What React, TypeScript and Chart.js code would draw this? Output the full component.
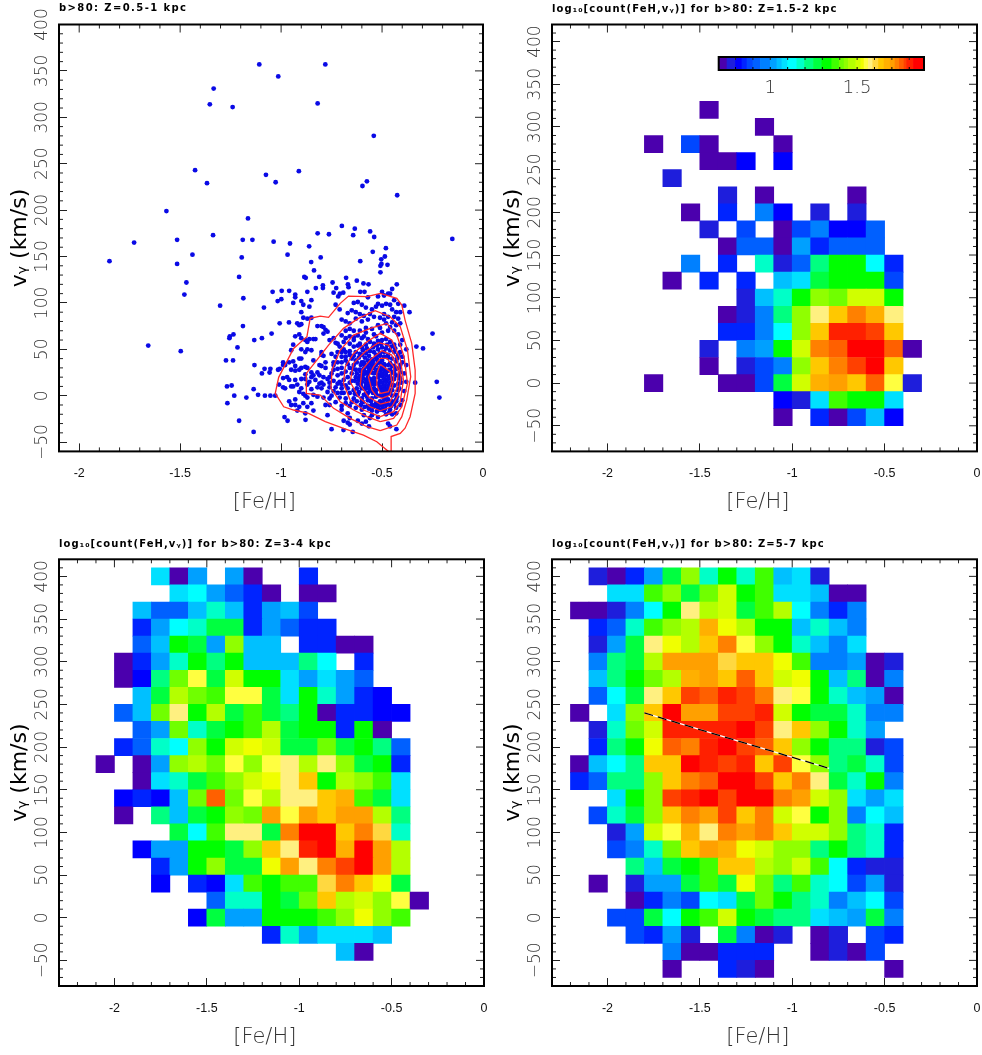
import { useEffect, useRef } from "react";
import { Chart, registerables } from "chart.js";

Chart.register(...registerables);

const _ = null;

// Colour bins of the colour bar: fill of each bin and its log10(count) lower edges.
const LEVEL_COLORS = [
  "#4b00ad", "#1e1edc", "#0000ff", "#0024ff", "#0047ff", "#0060ff", "#0080ff", "#00a0ff",
  "#00c0ff", "#00e0ff", "#00ffff", "#00ffc8", "#00ff80", "#00ff40", "#00ff00", "#40ff00",
  "#70ff00", "#90ff00", "#b4ff00", "#d0ff00", "#f0ff00", "#ffff40", "#fff080", "#ffd840",
  "#ffc800", "#ffb000", "#ffa000", "#ff8000", "#ff6000", "#ff4000", "#ff2000", "#ff0000",
];
const LEVEL_EDGES = [
  0.703, 0.751, 0.799, 0.837, 0.866, 0.9, 0.943, 1.0, 1.038, 1.067, 1.1, 1.153, 1.197, 1.249, 1.297,
  1.354, 1.397, 1.425, 1.45, 1.492, 1.521, 1.54, 1.565, 1.59, 1.623, 1.655, 1.69, 1.718, 1.743, 1.77,
  1.785, 1.824, 1.885,
];

const FEH_BIN_LEFT = [
  -2.2, -2.1, -2.0, -1.9, -1.8, -1.7, -1.6, -1.5, -1.4, -1.3, -1.2, -1.1, -1.0, -0.9, -0.8, -0.7, -0.6,
  -0.5, -0.4,
];
const VY_BIN_LOW = [390, 370, 350, 330, 310, 290, 270, 250, 230, 210, 190, 170, 150, 130, 110, 90, 70, 50, 30, 10, -10, -30, -50, -70];

// Rows run from the top velocity bin downward; values are colour-bin numbers.
const Z15_2_ROWS = [
  [], [], [], [],
  [_, _, _, _, _, _, _, 0],
  [_, _, _, _, _, _, _, _, _, _, 0],
  [_, _, _, _, 0, _, 4, 0, _, _, _, 0],
  [_, _, _, _, _, _, _, 0, 0, 2, _, 2],
  [_, _, _, _, _, 1],
  [_, _, _, _, _, _, _, _, 1, _, 0, _, _, _, _, 0],
  [_, _, _, _, _, _, 0, _, 3, _, 6, 2, _, 1, _, 1],
  [_, _, _, _, _, _, _, 1, _, 4, _, 0, 4, 6, 2, 2, 5],
  [_, _, _, _, _, _, _, _, 0, 5, 5, 0, 7, 3, 5, 5, 5],
  [_, _, _, _, _, _, 6, _, 3, _, 11, 1, 5, 12, 14, 14, 10, 3],
  [_, _, _, _, _, 0, _, 3, _, 3, _, 8, 9, 13, 14, 14, 14, 4],
  [_, _, _, _, _, _, _, _, _, 1, 8, 11, 14, 17, 16, 19, 19, 14],
  [_, _, _, _, _, _, _, _, 0, 1, 6, 12, 17, 22, 24, 27, 25, 22],
  [_, _, _, _, _, _, _, _, 3, 3, 6, 10, 17, 24, 30, 30, 29, 24],
  [_, _, _, _, _, _, _, 1, _, 6, 7, 14, 19, 27, 28, 31, 31, 28, 0],
  [_, _, _, _, _, _, _, 0, _, 1, 4, 6, 17, 24, 27, 29, 31, 24],
  [_, _, _, _, 0, _, _, _, 0, 0, 4, 13, 19, 25, 26, 24, 28, 21, 1],
  [_, _, _, _, _, _, _, _, _, _, _, 2, 1, 9, 15, 14, 14, 9],
  [_, _, _, _, _, _, _, _, _, _, _, 0, _, 3, 0, 4, 8, 2],
  [],
];

const Z3_4_ROWS = [
  [_, _, _, _, 9, 0, 7, _, 7, 0, _, _, 3],
  [_, _, _, _, _, 9, 10, 7, 5, 3, 0, _, 0, 0],
  [_, _, _, 8, 5, 5, 8, 11, 8, 3, 7, 8, 4],
  [_, _, _, 3, 7, 10, 11, 13, 13, 3, 7, 5, 3, 3],
  [_, _, _, 5, 8, 14, 13, 7, 17, 8, 8, _, 3, 3, 0, 0],
  [_, _, 0, 3, 7, 11, 14, 12, 14, 8, 8, 8, 12, 10, _, 3],
  [_, _, 0, 2, 12, 16, 21, 13, 19, 14, 14, 9, 7, 9, 7, 5],
  [_, _, _, 8, 13, 18, 16, 15, 21, 21, 13, 9, 14, 11, 7, 3, 2],
  [_, _, 5, 8, 16, 22, 14, 18, 13, 15, 13, 12, 14, 0, 3, 3, 2, 2],
  [_, _, _, 5, 7, 16, 11, 13, 14, 15, 18, 13, 14, 14, 3, 14, 0],
  [_, _, 3, 5, 11, 10, 17, 14, 19, 20, 19, 13, 13, 16, 13, 14, 12, 5],
  [_, 0, _, 0, 7, 17, 18, 16, 21, 17, 21, 22, 18, 22, 17, 13, 14, 3],
  [_, _, _, 0, 9, 11, 13, 15, 17, 19, 20, 22, 24, 14, 18, 17, 15, 9],
  [_, _, 2, 3, 2, 8, 16, 28, 16, 21, 18, 22, 22, 24, 25, 15, 13, 9],
  [_, _, 0, _, 12, 8, 13, 14, 17, 16, 26, 21, 26, 24, 26, 26, 18, 12],
  [_, _, _, _, _, 13, 10, 15, 22, 22, 13, 27, 31, 31, 24, 27, 23, 11],
  [_, _, _, 2, 7, 7, 14, 14, 13, 17, 24, 22, 30, 31, 25, 31, 26, 18],
  [_, _, _, _, 3, 7, 14, 17, 13, 13, 20, 26, 22, 27, 29, 31, 26, 18],
  [_, _, _, _, 2, _, 3, 2, 9, 15, 14, 15, 15, 23, 27, 24, 20, 13],
  [_, _, _, _, _, _, _, 5, 11, 11, 14, 13, 16, 24, 18, 19, 17, 21, 0],
  [_, _, _, _, _, _, 2, 13, 7, 7, 14, 14, 14, 15, 17, 20, 17, 15],
  [_, _, _, _, _, _, _, _, _, _, 3, 11, 7, 9, 9, 9, 8],
  [_, _, _, _, _, _, _, _, _, _, _, _, _, _, 8, 0],
  [],
];

const Z5_7_ROWS = [
  [_, 1, 0, 3, 7, 13, 17, 11, 14, 11, 15, 8, 9, 1],
  [_, _, 9, 9, 15, 17, 13, 16, 19, 14, 15, 9, 9, 8, 0, 0],
  [0, 0, 1, 6, 10, 14, 22, 18, 19, 13, 15, 18, 10, 6, 3, 6],
  [_, 3, 5, 11, 15, 17, 18, 25, 20, 18, 14, 14, 8, 11, 8, 6],
  [_, 1, 7, 13, 22, 20, 18, 24, 27, 21, 17, 14, 11, 8, 6, 9],
  [_, 6, 12, 13, 18, 26, 26, 26, 23, 24, 24, 20, 15, 6, 6, 7, 0, 1],
  [_, 8, 12, 14, 16, 18, 25, 26, 24, 28, 24, 19, 20, 14, 8, 12, 0, 6],
  [_, 5, 10, 13, 22, 24, 29, 28, 30, 29, 27, 22, 21, 14, 11, 8, 7, 0],
  [0, _, 9, 17, 24, 31, 26, 26, 29, 29, 30, 19, 14, 13, 13, 11, 6, 6],
  [_, 1, 11, 16, 19, 30, 30, 30, 30, 31, 29, 22, 24, 17, 14, 11, 7],
  [_, 3, 12, 14, 20, 28, 27, 30, 31, 29, 28, 24, 17, 14, 12, 12, 1, 4],
  [0, 8, 10, 12, 24, 24, 31, 30, 29, 30, 24, 29, 21, 17, 12, 13, 11, 4],
  [3, 5, 12, 12, 17, 24, 27, 28, 31, 31, 29, 24, 27, 22, 13, 11, 14, 6],
  [_, _, 9, 14, 17, 29, 30, 31, 29, 31, 31, 27, 26, 19, 17, 9, 7, 9],
  [_, 4, 11, 13, 17, 24, 27, 26, 29, 24, 27, 19, 21, 14, 17, 6, 10, 8],
  [_, _, 1, 7, 19, 21, 25, 22, 27, 26, 27, 24, 19, 19, 17, 12, 11, 3],
  [_, _, 4, 6, 11, 16, 24, 26, 25, 20, 19, 17, 17, 12, 14, 12, 11, 3],
  [_, _, _, 12, 8, 13, 14, 15, 24, 24, 18, 17, 19, 15, 10, 3, 1, 1],
  [_, 0, _, 1, 7, 7, 13, 15, 13, 20, 16, 12, 15, 11, 10, 4, 7, 1],
  [_, _, _, 0, 3, 6, 4, 10, 9, 13, 16, 14, 12, 11, 6, 8, 10, 4],
  [_, _, 4, 4, 13, 10, 14, 15, 19, 14, 13, 12, 12, 9, 8, 7, 13, 6],
  [_, _, _, 4, 3, 7, 1, _, 13, 6, 0, 1, _, 0, 1, _, 4, 3],
  [_, _, _, _, _, 6, 0, 0, 3, 3, 3, _, _, 0, 1, 0, 4],
  [_, _, _, _, _, 0, _, _, 3, 1, 0, _, _, _, _, _, _, 0],
];

const Z5_7_TREND_FEH = [-1.8, -0.8];
const Z5_7_TREND_VY = [240, 175];

// Panel 1: stars as [FeH, vY]
const HALO_STARS = [
  [-1.108, 357], [-0.781, 357], [-1.014, 344], [-1.334, 331], [-1.353, 314], [-1.24, 311], [-0.819, 315], [-0.541, 280],
  [-1.426, 243], [-1.075, 238], [-0.912, 242], [-1.367, 229], [-1.027, 230], [-0.575, 231], [-0.597, 226], [-0.425, 216],
  [-1.568, 199], [-1.164, 191], [-0.699, 183], [-0.635, 180], [-0.819, 175], [-0.763, 174], [-0.643, 173], [-0.559, 177],
  [-0.539, 171], [-1.337, 173], [-1.728, 165], [-1.515, 168], [-1.19, 168], [-1.142, 168], [-1.037, 166], [-0.956, 164],
  [-0.861, 161], [-0.152, 169], [-0.481, 159], [-0.546, 155], [-1.439, 152], [-0.968, 152], [-0.486, 150], [-1.195, 149],
  [-0.804, 149], [-0.504, 147], [-1.85, 145], [-0.608, 145], [-0.851, 144], [-1.515, 142], [-0.503, 142], [-0.473, 141],
  [-0.508, 140], [-0.837, 135], [-0.508, 133], [-1.208, 128], [-0.885, 128], [-0.878, 127], [-0.811, 128], [-1.469, 122],
  [-1.479, 109], [-1.302, 97], [-1.187, 105], [-1.042, 112], [-0.997, 113], [-1.017, 102], [-0.999, 104], [-1.085, 95],
  [-1.189, 75], [-1.007, 78], [-0.961, 79], [-1.047, 67], [-1.236, 66], [-1.254, 64], [-1.256, 62], [-1.095, 62],
  [-1.133, 60], [-1.216, 52], [-1.658, 54], [-1.497, 48], [-1.273, 38], [-1.238, 38], [-1.132, 33], [-1.082, 29],
  [-1.053, 29], [-1.057, 25], [-1.095, 24], [-1.007, 29], [-1.015, 28], [-0.99, 33], [-1.268, 10], [-1.245, 11],
  [-1.136, 7], [-1.232, 0], [-1.172, -2], [-1.114, 1], [-1.08, 0], [-1.053, 0], [-1.029, 0], [-1.266, -8],
  [-1.208, -27], [-1.136, -39], [-0.429, -36], [-0.25, 67], [-0.33, 53], [-0.297, 51], [-0.336, 14], [-0.229, 15],
  [-0.216, -2], [-0.364, 90], [-0.427, 120], [-0.983, -23], [-0.968, -27], [-0.879, -26], [-0.75, -36], [-0.691, -37],
  [-0.645, -39], [-0.565, -33],
];
const MIDDLE_STARS = [
  [-0.745, 122], [-0.793, 119], [-0.793, 116], [-0.727, 116], [-0.74, 111], [-0.678, 127], [-0.625, 124], [-0.669, 120],
  [-0.666, 117], [-0.592, 121], [-0.567, 120], [-0.608, 112], [-0.587, 112], [-0.709, 110], [-0.692, 111], [-0.717, 107],
  [-0.828, 116], [-0.96, 113], [-0.93, 109], [-0.93, 106], [-0.94, 100], [-0.9, 102], [-0.89, 98], [-0.85, 103],
  [-0.87, 112], [-0.86, 96], [-0.9, 90], [-0.89, 84], [-0.87, 83], [-0.85, 84], [-0.92, 78], [-0.91, 76], [-0.9, 77],
  [-0.82, 75], [-0.8, 75], [-0.79, 74], [-0.78, 71], [-0.77, 69], [-0.79, 67], [-0.91, 66], [-0.93, 64], [-0.9, 62],
  [-0.88, 60], [-0.87, 58], [-0.86, 61], [-0.84, 61], [-0.83, 61], [-0.76, 60], [-0.74, 62], [-0.73, 57], [-0.94, 55],
  [-0.9, 50], [-0.87, 50], [-0.85, 49], [-0.95, 49], [-0.88, 47], [-0.94, 37], [-0.96, 36], [-0.91, 40], [-0.9, 40],
  [-0.84, 38], [-0.8, 47], [-0.8, 44], [-0.79, 43], [-0.78, 36], [-0.74, 36], [-0.72, 36], [-0.7, 42], [-0.99, 36],
  [-0.98, 33], [-0.93, 32], [-0.9, 30], [-0.88, 31], [-0.87, 30], [-0.85, 25], [-0.81, 33], [-0.8, 32], [-0.78, 30],
  [-0.95, 28], [-0.93, 27], [-0.91, 28], [-0.88, 23], [-0.85, 20], [-0.84, 22], [-0.82, 25], [-0.81, 22], [-0.79, 20],
  [-0.77, 18], [-0.99, 19], [-0.97, 20], [-0.96, 17], [-0.93, 17], [-0.9, 18], [-0.88, 18], [-0.86, 15], [-0.83, 17],
  [-0.81, 13], [-0.8, 14], [-0.79, 12], [-0.95, 10], [-0.94, 10], [-0.92, 12], [-0.9, 8], [-0.87, 12], [-0.85, 7],
  [-0.82, 9], [-0.8, 8], [-1.01, 12], [-0.99, 9], [-0.98, 8], [-0.91, 4], [-0.89, 2], [-0.88, 0], [-0.87, -2], [-0.84, 1],
  [-0.82, -1], [-0.79, -2], [-0.76, -3], [-0.75, 0], [-0.71, -2], [-0.69, 3], [-0.93, -4], [-0.96, -6], [-0.95, -10],
  [-0.93, -10], [-0.91, -12], [-0.89, -8], [-0.87, -12], [-0.85, -8], [-0.78, -10], [-0.76, -10], [-0.73, -7], [-0.7, -11],
  [-0.68, -8], [-0.92, -16], [-0.88, -19], [-0.84, -16], [-0.77, -21], [-0.7, -15], [-0.67, -19], [-0.66, -24], [-0.69, -27],
  [-0.67, -29], [-0.66, -31], [-0.62, -27], [-0.6, -30], [-0.58, -28], [-0.56, -24], [-0.59, -21], [-0.55, -21], [-0.52, -23],
  [-0.48, -20], [-0.45, -20], [-0.43, -19], [-0.47, -30], [-0.46, -33], [-0.43, -13], [-0.41, -10], [-0.4, -5], [-0.73, 98],
  [-0.71, 93], [-0.67, 89], [-0.65, 92], [-0.63, 90], [-0.61, 88], [-0.59, 86], [-0.55, 93], [-0.53, 96], [-0.52, 99],
  [-0.5, 97], [-0.48, 99], [-0.46, 98], [-0.45, 93], [-0.42, 99], [-0.39, 97], [-0.49, 108], [-0.47, 110], [-0.45, 115],
  [-0.46, 110], [-0.52, 107], [-0.57, 106], [-0.64, 100], [-0.62, 101], [-0.6, 98], [-0.58, 95], [-0.7, 82], [-0.68, 80],
  [-0.66, 78], [-0.63, 83], [-0.6, 80], [-0.57, 82], [-0.54, 85], [-0.51, 84], [-0.49, 88], [-0.47, 85], [-0.44, 85],
  [-0.42, 83], [-0.41, 78], [-0.45, 79], [-0.48, 78], [-0.52, 76], [-0.55, 72], [-0.58, 73], [-0.61, 70], [-0.64, 70],
  [-0.66, 72], [-0.68, 70], [-0.7, 65], [-0.66, 64], [-0.64, 63], [-0.62, 65], [-0.59, 64], [-0.57, 61], [-0.53, 64],
  [-0.5, 68], [-0.47, 70], [-0.44, 70], [-0.42, 66], [-0.4, 60], [-0.38, 50], [-0.41, 55], [-0.69, 58], [-0.66, 56],
  [-0.64, 53], [-0.61, 56], [-0.71, 53], [-0.69, 50], [-0.66, 48], [-0.63, 47], [-0.61, 45], [-0.72, 47], [-0.75, 45],
  [-0.73, 42], [-0.68, 42], [-0.65, 40], [-0.63, 38], [-0.72, 29], [-0.7, 30], [-0.67, 34], [-0.75, 24], [-0.72, 22],
  [-0.7, 24], [-0.68, 26], [-0.66, 30], [-0.64, 33], [-0.74, 16], [-0.71, 15], [-0.69, 17], [-0.67, 20], [-0.65, 24],
  [-0.73, 9], [-0.7, 8], [-0.68, 11], [-0.66, 14], [-0.64, 6], [-0.66, 3], [-0.62, 1], [-0.64, -3], [-0.6, -6], [-0.66, -11],
  [-0.63, -13], [-0.6, -15], [-0.57, -11], [-0.55, -16], [-0.52, -15], [-0.49, -16], [-0.46, -15], [-0.43, -6], [-0.39, 5],
  [-0.38, 15], [-0.39, 24], [-0.38, 33], [-0.4, 42], [-0.4, 36], [-0.41, 47],
];
const CORE_STARS = [
  [-0.62, 54], [-0.6, 52], [-0.58, 55], [-0.56, 58], [-0.54, 56], [-0.52, 59], [-0.5, 60], [-0.48, 61], [-0.46, 58], [-0.44, 55],
  [-0.6, 44], [-0.58, 46], [-0.56, 48], [-0.54, 47], [-0.52, 50], [-0.5, 52], [-0.48, 51], [-0.46, 49], [-0.44, 47], [-0.42, 44],
  [-0.59, 36], [-0.57, 38], [-0.55, 39], [-0.53, 41], [-0.51, 43], [-0.49, 42], [-0.47, 41], [-0.45, 40], [-0.43, 37], [-0.41, 33],
  [-0.61, 28], [-0.59, 29], [-0.57, 31], [-0.55, 32], [-0.53, 33], [-0.51, 35], [-0.49, 34], [-0.47, 33], [-0.45, 32], [-0.43, 29],
  [-0.41, 25], [-0.63, 20], [-0.61, 21], [-0.59, 23], [-0.57, 24], [-0.55, 25], [-0.53, 26], [-0.51, 27], [-0.49, 28], [-0.47, 27],
  [-0.45, 25], [-0.43, 22], [-0.41, 18], [-0.62, 13], [-0.6, 15], [-0.58, 17], [-0.56, 18], [-0.54, 19], [-0.52, 20], [-0.5, 21],
  [-0.48, 22], [-0.46, 21], [-0.44, 18], [-0.42, 13], [-0.6, 8], [-0.58, 10], [-0.56, 11], [-0.54, 12], [-0.52, 13], [-0.5, 14],
  [-0.48, 15], [-0.46, 14], [-0.44, 11], [-0.42, 6], [-0.59, 1], [-0.57, 3], [-0.55, 5], [-0.53, 6], [-0.51, 7], [-0.49, 8],
  [-0.47, 8], [-0.45, 6], [-0.43, 1], [-0.57, -5], [-0.55, -3], [-0.53, -1], [-0.51, 0], [-0.49, 2], [-0.47, 2], [-0.45, 0],
  [-0.43, -4], [-0.55, -10], [-0.53, -8], [-0.51, -6], [-0.49, -4], [-0.47, -4], [-0.45, -6], [-0.52, -12], [-0.5, -11],
  [-0.48, -10], [-0.46, -10], [-0.51, 30], [-0.5, 24], [-0.49, 18], [-0.49, 11], [-0.5, 5], [-0.48, 5], [-0.47, 11], [-0.47, 18],
  [-0.48, 25], [-0.49, 31], [-0.46, 28], [-0.46, 35], [-0.5, 38], [-0.52, 36], [-0.52, 28], [-0.52, 23], [-0.51, 16], [-0.51, 10],
  [-0.5, 0], [-0.48, 0], [-0.46, 4], [-0.45, 11], [-0.45, 18], [-0.44, 25], [-0.44, 32], [-0.47, 44], [-0.49, 47], [-0.51, 46],
  [-0.53, 44], [-0.55, 35], [-0.54, 30], [-0.54, 24], [-0.54, 16], [-0.54, 8], [-0.53, 2], [-0.56, 28], [-0.57, 20], [-0.58, 13],
  [-0.56, 6], [-0.58, 2], [-0.6, -3], [-0.6, 36], [-0.63, 28], [-0.65, 16], [-0.67, 8],
  [-0.615, 41], [-0.585, 41], [-0.565, 43], [-0.545, 52], [-0.525, 54], [-0.505, 56], [-0.475, 55], [-0.455, 53], [-0.435, 51],
  [-0.595, 49], [-0.575, 51], [-0.625, 36], [-0.605, 33], [-0.585, 33], [-0.565, 35], [-0.545, 37], [-0.525, 39], [-0.425, 40],
  [-0.645, 29], [-0.625, 24], [-0.605, 26], [-0.585, 26], [-0.565, 27], [-0.415, 30], [-0.635, 16], [-0.615, 17], [-0.595, 19],
  [-0.575, 14], [-0.555, 15], [-0.535, 14], [-0.415, 21], [-0.405, 14], [-0.625, 8], [-0.605, 11], [-0.585, 7], [-0.565, 8],
  [-0.545, 3], [-0.415, 8], [-0.425, -1], [-0.635, 2], [-0.615, 4], [-0.595, -7], [-0.575, -1], [-0.555, -6], [-0.535, -11],
  [-0.515, -10], [-0.495, -8], [-0.475, -8], [-0.455, -11], [-0.44, -9], [-0.625, -6], [-0.605, -10], [-0.585, -12], [-0.565, -14],
  [-0.545, -12], [-0.525, -17], [-0.505, -15], [-0.485, -14], [-0.465, -18], [-0.65, -7], [-0.68, -3], [-0.7, 3], [-0.72, 3],
  [-0.7, 12], [-0.72, 13], [-0.74, 5], [-0.76, 9], [-0.77, 4], [-0.76, 14], [-0.76, 20], [-0.74, 28], [-0.74, 33], [-0.7, 36],
  [-0.68, 38], [-0.66, 44], [-0.64, 43], [-0.68, 47], [-0.7, 47], [-0.72, 56], [-0.68, 62], [-0.64, 60], [-0.6, 62], [-0.58, 68],
  [-0.54, 66], [-0.51, 73], [-0.46, 74], [-0.49, 82], [-0.56, 88], [-0.43, 76], [-0.43, 90], [-0.41, 90], [-0.44, 103], [-0.5, 112],
];

const CONTOUR_1 = [[-0.455, -61], [-0.455, -44], [-0.41, -40.6], [-0.386, -35], [-0.361, -22.6], [-0.336, 2.5], [-0.336, 27.7], [-0.353, 56.4], [-0.386, 81.5], [-0.402, 97.7], [-0.427, 104.9], [-0.509, 110.3], [-0.575, 106.7], [-0.666, 107.4], [-0.707, 99.5], [-0.765, 84.4], [-0.806, 85.8], [-0.856, 83.3], [-0.872, 63.6], [-0.938, 51], [-1.012, 19.8], [-1.029, 2.5], [-0.987, -11.9], [-0.938, -15.4], [-0.864, -19], [-0.781, -28], [-0.691, -35.2], [-0.592, -42.4], [-0.526, -49.6], [-0.463, -61]];
const CONTOUR_2 = [[-0.509, -37.7], [-0.427, -31.6], [-0.402, -22.6], [-0.378, -4.7], [-0.358, 20.5], [-0.374, 49.2], [-0.41, 74.4], [-0.46, 85.1], [-0.534, 91.6], [-0.617, 83.3], [-0.691, 72.6], [-0.765, 54.6], [-0.823, 38.4], [-0.875, 24.1], [-0.875, 2.5], [-0.806, 0.7], [-0.74, -13.6], [-0.658, -24.4], [-0.575, -33.4], [-0.509, -37.7]];
const CONTOUR_3 = [[-0.509, -28], [-0.443, -24.4], [-0.402, -11.9], [-0.374, 13.3], [-0.391, 42], [-0.427, 65.4], [-0.476, 77.9], [-0.559, 72.6], [-0.641, 65.4], [-0.707, 49.2], [-0.748, 27.7], [-0.753, 7.9], [-0.707, -6.5], [-0.641, -15.4], [-0.575, -22.6], [-0.509, -28]];
const CONTOUR_4 = [[-0.509, -22.6], [-0.443, -17.2], [-0.41, -6.5], [-0.394, 16.9], [-0.41, 40.2], [-0.452, 60], [-0.509, 67.2], [-0.575, 58.2], [-0.641, 45.6], [-0.682, 31.3], [-0.691, 13.3], [-0.658, -4.7], [-0.592, -15.4], [-0.509, -22.6]];
const CONTOUR_5 = [[-0.509, -16.2], [-0.452, -11.9], [-0.419, 0.7], [-0.406, 20.5], [-0.427, 40.2], [-0.468, 54.6], [-0.518, 57.1], [-0.584, 47.4], [-0.641, 34.9], [-0.658, 15], [-0.617, -1.1], [-0.559, -11.9], [-0.509, -16.2]];
const CONTOUR_6 = [[-0.509, -9], [-0.46, -6.5], [-0.427, 7.9], [-0.419, 25.9], [-0.452, 43.8], [-0.501, 48.5], [-0.551, 40.2], [-0.6, 27.7], [-0.608, 11.5], [-0.567, -1.1], [-0.509, -9]];
const CONTOUR_7 = [[-0.501, -2.9], [-0.46, 0.7], [-0.443, 15], [-0.443, 31.3], [-0.476, 40.2], [-0.509, 40.2], [-0.542, 31.3], [-0.567, 20], [-0.55, 6], [-0.53, 0], [-0.501, -2.9]];
const CONTOUR_8 = [[-0.509, 34], [-0.46, 25.9], [-0.452, 15], [-0.468, 4.3], [-0.509, 2.5], [-0.526, 11.5], [-0.526, 24], [-0.509, 34]];

const TITLES = [
  "b>80: Z=0.5-1 kpc",
  "log₁₀[count(FeH,vᵧ)] for b>80: Z=1.5-2 kpc",
  "log₁₀[count(FeH,vᵧ)] for b>80: Z=3-4 kpc",
  "log₁₀[count(FeH,vᵧ)] for b>80: Z=5-7 kpc",
];
const X_LABEL = "[Fe/H]\u00A0\u00A0";
const Y_LABEL = "vᵧ (km/s)";
const X_MINOR = [-2.2, -2.1, -1.9, -1.8, -1.7, -1.6, -1.4, -1.3, -1.2, -1.1, -0.9, -0.8, -0.7, -0.6, -0.4, -0.3, -0.2, -0.1];
const X_MAJOR = [-2, -1.5, -1, -0.5, 0];
const Y_MAJOR = [-50, 0, 50, 100, 150, 200, 250, 300, 350, 400];
const Y_MINOR = [-70, -60, -40, -30, -20, -10, 10, 20, 30, 40, 60, 70, 80, 90, 110, 120, 130, 140, 160, 170, 180, 190, 210, 220, 230, 240, 260, 270, 280, 290, 310, 320, 330, 340, 360, 370, 380, 390, 410];
const BAR_TICKS = [0.8, 0.9, 1, 1.1, 1.2, 1.3, 1.4, 1.5, 1.6, 1.7, 1.8];
const BAR_LABELS = [1, 1.5];

const asTicks = (list) => (s) => { s.ticks = list.map((value) => ({ value })); };
const noPadding = (s) => { s.paddingLeft = 0; s.paddingRight = 0; s.paddingTop = 0; s.paddingBottom = 0; };

function frameTicks(xMajor, xMinor, yMajor, yMinor, majorLen, minorLen, letterSpacing) {
  return {
    id: "frameTicks",
    beforeDraw(chart) {
      const t = chart.titleBlock;
      if (t && !t.__spaced) {
        const draw = t.draw;
        t.draw = function () {
          chart.ctx.save();
          chart.ctx.letterSpacing = letterSpacing;
          draw.call(t);
          chart.ctx.restore();
        };
        t.__spaced = true;
      }
    },
    afterDatasetsDraw(chart) {
      const { ctx, chartArea: a, scales } = chart;
      ctx.save();
      ctx.strokeStyle = "#222";
      ctx.lineWidth = 1;
      const vTick = (v, len, both) => {
        const x = scales.x.getPixelForValue(v);
        if (x < a.left + 1 || x > a.right - 1) return;
        ctx.beginPath();
        ctx.moveTo(x, a.top);
        ctx.lineTo(x, a.top + len);
        if (both) {
          ctx.moveTo(x, a.bottom);
          ctx.lineTo(x, a.bottom - len);
        }
        ctx.stroke();
      };
      const hTick = (v, len, both) => {
        const y = scales.y.getPixelForValue(v);
        if (y < a.top + 1 || y > a.bottom - 1) return;
        ctx.beginPath();
        ctx.moveTo(a.right, y);
        ctx.lineTo(a.right - len, y);
        if (both) {
          ctx.moveTo(a.left, y);
          ctx.lineTo(a.left + len, y);
        }
        ctx.stroke();
      };
      xMajor.forEach((v) => vTick(v, majorLen, false));
      xMinor.forEach((v) => vTick(v, minorLen, true));
      yMajor.forEach((v) => hTick(v, majorLen, false));
      yMinor.forEach((v) => hTick(v, minorLen, true));
      ctx.strokeStyle = "#000";
      ctx.lineWidth = 2;
      ctx.strokeRect(a.left, a.top, a.right - a.left, a.bottom - a.top);
      ctx.restore();
    },
  };
}

function heatDatasets(rows) {
  const data = [];
  const colors = [];
  rows.forEach((row, r) => {
    row.forEach((level, c) => {
      if (level === null) return;
      data.push({ x: FEH_BIN_LEFT[c] + 0.05, y: [VY_BIN_LOW[r], VY_BIN_LOW[r] + 20] });
      colors.push(LEVEL_COLORS[level]);
    });
  });
  return [{ type: "bar", data, backgroundColor: colors, barThickness: 18.48, order: 2 }];
}

function pts(list) {
  return list.map(([x, y]) => ({ x, y }));
}

function panelOptions(p) {
  return {
    responsive: false,
    maintainAspectRatio: false,
    animation: false,
    devicePixelRatio: 1,
    events: [],
    layout: { padding: { left: 0, right: p.padRight, top: 0, bottom: 0 } },
    plugins: {
      legend: { display: false },
      tooltip: { enabled: false },
      title: {
        display: true,
        text: p.title,
        align: "start",
        fullSize: false,
        color: "#000",
        font: { family: "'DejaVu Sans'", size: 10, weight: "bold" },
        padding: { top: p.titleTop, bottom: p.titleBottom },
      },
    },
    scales: {
      x: {
        type: "linear",
        min: p.xMin,
        max: 0,
        bounds: "data",
        offset: false,
        afterBuildTicks: asTicks(X_MAJOR),
        afterFit: (s) => { s.height = p.xHeight; noPadding(s); },
        border: { display: false },
        grid: { offset: false, drawOnChartArea: false, drawTicks: true, tickLength: -8, tickColor: "#222", tickWidth: 1 },
        ticks: {
          autoSkip: false,
          maxRotation: 0,
          minRotation: 0,
          padding: 23,
          color: "#111",
          font: { family: "'Liberation Sans'", size: 12.5 },
          callback: (v) => String(v),
        },
        title: {
          display: true,
          text: X_LABEL,
          color: "#333",
          font: { family: "'DejaVu Sans'", size: 21, weight: "200" },
          padding: { top: 0, bottom: p.xTitleBottom },
        },
      },
      y: {
        type: "linear",
        min: p.yMin,
        max: p.yMax,
        bounds: "data",
        offset: false,
        afterBuildTicks: asTicks(Y_MAJOR),
        afterFit: (s) => { s.width = p.yWidth; noPadding(s); },
        border: { display: false },
        grid: { drawOnChartArea: false, drawTicks: true, tickLength: -8, tickColor: "#222", tickWidth: 1 },
        ticks: {
          autoSkip: false,
          minRotation: 90,
          maxRotation: 90,
          crossAlign: "center",
          padding: 6,
          color: "#333",
          font: { family: "'DejaVu Sans'", size: 17, weight: "200" },
          callback: (v) => String(v).replace("-", "\u2212"),
        },
        title: {
          display: true,
          text: Y_LABEL,
          color: "#000",
          font: { family: "'DejaVu Sans'", size: 22 },
          padding: { top: p.yTitleTop, bottom: 0 },
        },
      },
    },
  };
}

const PANEL_1 = {
  title: TITLES[0], xMin: -2.1, yMin: -60, yMax: 400, padRight: 8, yWidth: 59,
  titleTop: 2, titleBottom: 10.5, xHeight: 75.6, xTitleBottom: 12, yTitleTop: 7,
};
const PANEL_2 = {
  title: TITLES[1], xMin: -2.3, yMin: -80, yMax: 420, padRight: 5, yWidth: 61,
  titleTop: 3, titleBottom: 9.5, xHeight: 75.6, xTitleBottom: 12, yTitleTop: 9,
};
const PANEL_3 = {
  title: TITLES[2], xMin: -2.3, yMin: -80, yMax: 420, padRight: 7, yWidth: 59,
  titleTop: 11, titleBottom: 9.3, xHeight: 69, xTitleBottom: 5, yTitleTop: 7,
};
const PANEL_4 = {
  title: TITLES[3], xMin: -2.3, yMin: -80, yMax: 420, padRight: 5, yWidth: 61,
  titleTop: 11, titleBottom: 9.3, xHeight: 69, xTitleBottom: 5, yTitleTop: 9,
};

const STYLE_BOX = (left, top, width, height) => ({
  position: "absolute" as const, left, top, width, height, display: "block",
});

export default function App() {
  const c1 = useRef(null);
  const c2 = useRef(null);
  const c3 = useRef(null);
  const c4 = useRef(null);
  const cb = useRef(null);

  useEffect(() => {
    document.body.style.margin = "0";
    const ticks = (spacing) => frameTicks(X_MAJOR, X_MINOR, Y_MAJOR, Y_MINOR, 8, 4, spacing);
    const charts = [];

    const contours = [CONTOUR_1, CONTOUR_2, CONTOUR_3, CONTOUR_4, CONTOUR_5, CONTOUR_6, CONTOUR_7, CONTOUR_8];
    charts.push(
      new Chart(c1.current, {
        type: "scatter",
        data: {
          datasets: [
            ...contours.map((c) => ({
              data: pts(c),
              showLine: true,
              borderColor: "#ff2a2a",
              borderWidth: 1.3,
              pointRadius: 0,
              order: 0,
            })),
            {
              data: pts([...HALO_STARS, ...MIDDLE_STARS, ...CORE_STARS]),
              showLine: false,
              pointRadius: 2.4,
              pointBorderWidth: 0,
              pointBackgroundColor: "#0a0ae6",
              order: 1,
            },
          ],
        },
        options: panelOptions(PANEL_1),
        plugins: [ticks("1.4px")],
      }),
    );

    charts.push(
      new Chart(c2.current, {
        type: "bar",
        data: { datasets: heatDatasets(Z15_2_ROWS) },
        options: panelOptions(PANEL_2),
        plugins: [ticks("1.08px")],
      }),
    );
    charts.push(
      new Chart(c3.current, {
        type: "bar",
        data: { datasets: heatDatasets(Z3_4_ROWS) },
        options: panelOptions(PANEL_3),
        plugins: [ticks("1.08px")],
      }),
    );
    const trend = Z5_7_TREND_FEH.map((x, i) => ({ x, y: Z5_7_TREND_VY[i] }));
    charts.push(
      new Chart(c4.current, {
        type: "bar",
        data: {
          datasets: [
            { type: "line", data: trend, borderColor: "#000", borderWidth: 1.3, borderDash: [9, 5], pointRadius: 0, order: 0 },
            { type: "line", data: trend, borderColor: "#fff", borderWidth: 1.3, pointRadius: 0, order: 1 },
            ...heatDatasets(Z5_7_ROWS),
          ],
        },
        options: panelOptions(PANEL_4),
        plugins: [ticks("1.08px")],
      }),
    );

    charts.push(
      new Chart(cb.current, {
        type: "bar",
        data: {
          datasets: [
            {
              data: LEVEL_COLORS.map((_c, i) => ({ y: 0.5, x: [LEVEL_EDGES[i], LEVEL_EDGES[i + 1]] })),
              backgroundColor: LEVEL_COLORS,
              barThickness: 13,
            },
          ],
        },
        options: {
          indexAxis: "y",
          responsive: false,
          maintainAspectRatio: false,
          animation: false,
          devicePixelRatio: 1,
          events: [],
          layout: { padding: { left: 8.7, right: 11, top: 7, bottom: 0 } },
          plugins: { legend: { display: false }, tooltip: { enabled: false }, title: { display: false } },
          scales: {
            x: {
              type: "linear",
              min: LEVEL_EDGES[0],
              max: LEVEL_EDGES[LEVEL_EDGES.length - 1],
              bounds: "data",
              afterBuildTicks: asTicks(BAR_LABELS),
              afterFit: (s) => { s.height = 35; noPadding(s); },
              border: { display: false },
              grid: { display: false, drawTicks: false },
              ticks: {
                autoSkip: false,
                maxRotation: 0,
                minRotation: 0,
                padding: 8,
                color: "#333",
                font: { family: "'DejaVu Sans'", size: 18, weight: "200" },
                callback: (v) => String(v),
              },
            },
            y: { type: "linear", min: 0, max: 1, display: false, offset: false, afterFit: (s) => { s.width = 0; } },
          },
        },
        plugins: [frameTicks(BAR_TICKS, [], [], [], 3, 3, "0px"), {
          id: "barBottomTicks",
          afterDatasetsDraw(chart) {
            const { ctx, chartArea: a, scales } = chart;
            ctx.save();
            ctx.strokeStyle = "#000";
            ctx.lineWidth = 1;
            BAR_TICKS.forEach((v) => {
              const x = scales.x.getPixelForValue(v);
              ctx.beginPath();
              ctx.moveTo(x, a.bottom);
              ctx.lineTo(x, a.bottom - 3);
              ctx.stroke();
            });
            ctx.restore();
          },
        }],
      }),
    );

    return () => charts.forEach((c) => c.destroy());
  }, []);

  return (
    <div style={{ position: "relative", width: 982, height: 1055, background: "#fff", overflow: "hidden" }}>
      <canvas ref={c1} width={491} height={527} style={STYLE_BOX(0, 0, 491, 527)} />
      <canvas ref={c2} width={491} height={527} style={STYLE_BOX(491, 0, 491, 527)} />
      <canvas ref={c3} width={491} height={528} style={STYLE_BOX(0, 527, 491, 528)} />
      <canvas ref={c4} width={491} height={528} style={STYLE_BOX(491, 527, 491, 528)} />
      <canvas ref={cb} width={225} height={55} style={STYLE_BOX(710, 50, 225, 55)} />
    </div>
  );
}
